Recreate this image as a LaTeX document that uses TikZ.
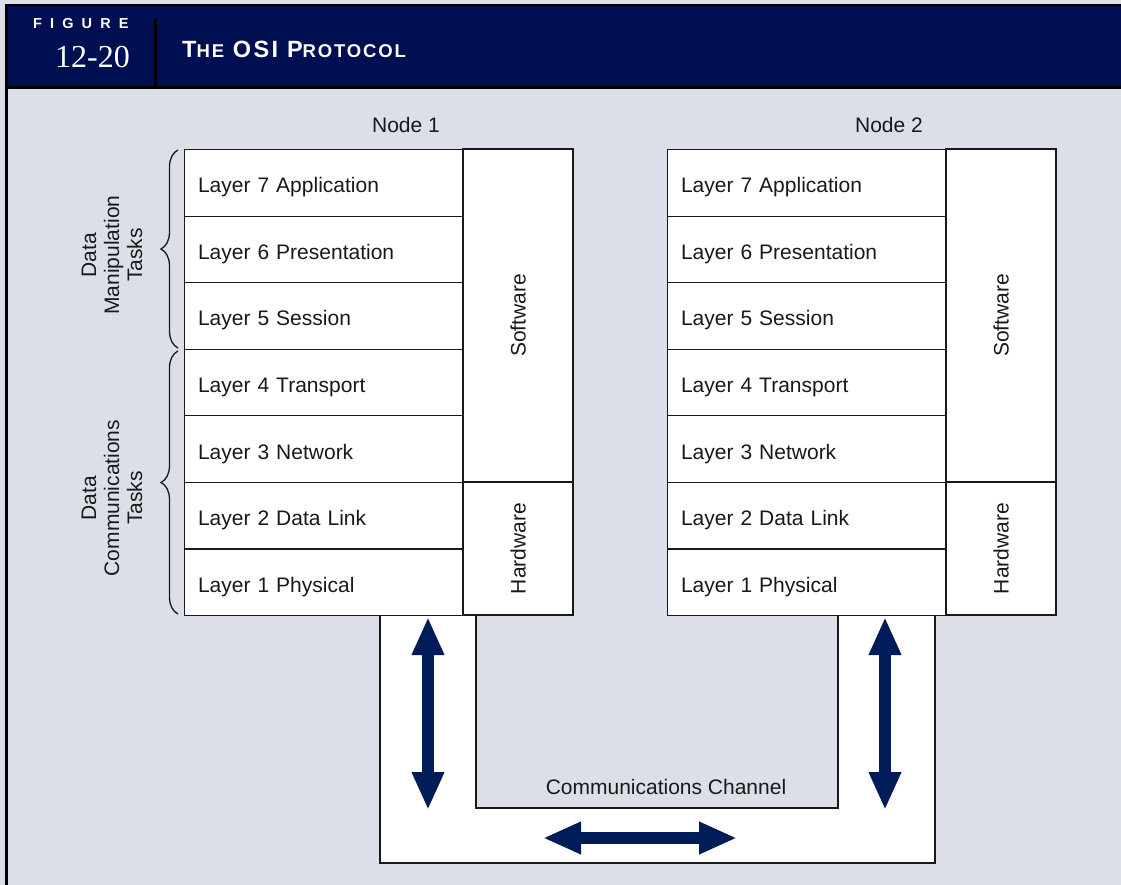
\documentclass[tikz,border=0pt]{standalone}
\usepackage{fontspec}
\setmainfont{Liberation Sans}
\newfontfamily\serifnum{Liberation Serif}
\usetikzlibrary{arrows.meta,decorations.pathreplacing}
\definecolor{navy}{RGB}{0,14,82}
\definecolor{arrowblue}{RGB}{0,28,88}
\definecolor{bgpanel}{RGB}{220,223,232}
\definecolor{ink}{RGB}{25,25,25}
\begin{document}
\begin{tikzpicture}[x=1pt,y=-1pt,
  txt/.style={font=\fontsize{21}{23}\selectfont, text=ink},
  cell/.style={txt, draw=ink, line width=1.1pt, fill=white, anchor=north west,
    minimum width=279pt, minimum height=66.57pt, text width=252pt,
    inner xsep=13.5pt, inner ysep=0pt, align=left, text height=24pt, text depth=4pt},
  sidecell/.style={txt, draw=ink, line width=1.1pt, fill=white, rotate=90,
    minimum height=110pt, inner sep=0pt},
  bracestyle/.style={draw=ink, line width=1.3pt, decorate, decoration={brace, amplitude=17pt}},
  bigarrow/.style={draw=arrowblue, line width=12pt,
    {Triangle[length=38pt,width=30pt]}-{Triangle[length=38pt,width=30pt]}},
  channel/.style={draw=ink, line width=1.1pt, fill=white}
]
\useasboundingbox (0,0) rectangle (1121,885);
% background and header
\fill[bgpanel] (0,0) rectangle (1121,885);
\fill[navy] (6,5) rectangle (1121,87);
\draw[line width=2.5pt] (6.25,885) -- (6.25,5.25) -- (1121,5.25);
\draw[line width=3pt] (6,87.5) -- (1121,87.5);
\draw[line width=3pt] (155.5,19) -- (155.5,87);
\node[anchor=west, text=white, inner sep=0pt,
  font=\fontsize{14.5}{16}\selectfont\bfseries\addfontfeatures{LetterSpace=56}] (figlbl) at (33,24) {FIGURE};
\node[anchor=west, text=white, inner sep=0pt, font=\serifnum\fontsize{32}{34}\selectfont] (fignum) at (55,57) {12-20};
\node[anchor=west, text=white, inner sep=0pt,
  font=\fontsize{23.5}{26}\selectfont\bfseries\addfontfeatures{LetterSpace=10}] (title) at (182,49)
  {T{\fontsize{18.5}{20}\selectfont HE} OSI P{\fontsize{18.5}{20}\selectfont ROTOCOL}};

% communications channel
\draw[channel] (380,615) -- (380,863) -- (935,863) -- (935,615) -- (838,615)
  -- (838,808) -- (476,808) -- (476,615) -- cycle;

% node stacks
\foreach \n/\x in {1/184, 2/667}{
  \foreach \i/\t [count=\r from 0] in {7/Application, 6/Presentation, 5/Session, 4/Transport, 3/Network, 2/Data Link, 1/Physical}{
    \node[cell] (n\n l\i) at (\x, 149+\r*66.57) {Layer \i\ \t};
  }
  \node[sidecell, minimum width=333pt] (n\n sw) at (\x+334, 315.5) {Software};
  \node[sidecell, minimum width=133pt] (n\n hw) at (\x+334, 548.5) {Hardware};
}
\node[txt] (node1) at (406,125) {Node 1};
\node[txt] (node2) at (889,125) {Node 2};

% braces
\coordinate (b1s) at (178,348);
\coordinate (b1e) at (178,150);
\coordinate (b2s) at (178,614);
\coordinate (b2e) at (178,351);
\draw[bracestyle] (b1s) -- (b1e);
\draw[bracestyle] (b2s) -- (b2e);
\node[txt, rotate=90, align=center, font=\fontsize{21}{23}\selectfont] (dm) at (112,255) {Data\\Manipulation\\Tasks};
\node[txt, rotate=90, align=center, font=\fontsize{21}{23}\selectfont] (dc) at (112,498) {Data\\Communications\\Tasks};

% arrows
\coordinate (a1t) at (428,617);
\coordinate (a1b) at (428,810);
\coordinate (a2t) at (885,617);
\coordinate (a2b) at (885,810);
\coordinate (ahl) at (543,838);
\coordinate (ahr) at (737,838);
\draw[bigarrow] (a1t) -- (a1b);
\draw[bigarrow] (a2t) -- (a2b);
\draw[bigarrow] (ahl) -- (ahr);
\node[txt] (chan) at (666,787) {Communications Channel};
\end{tikzpicture}
\end{document}
